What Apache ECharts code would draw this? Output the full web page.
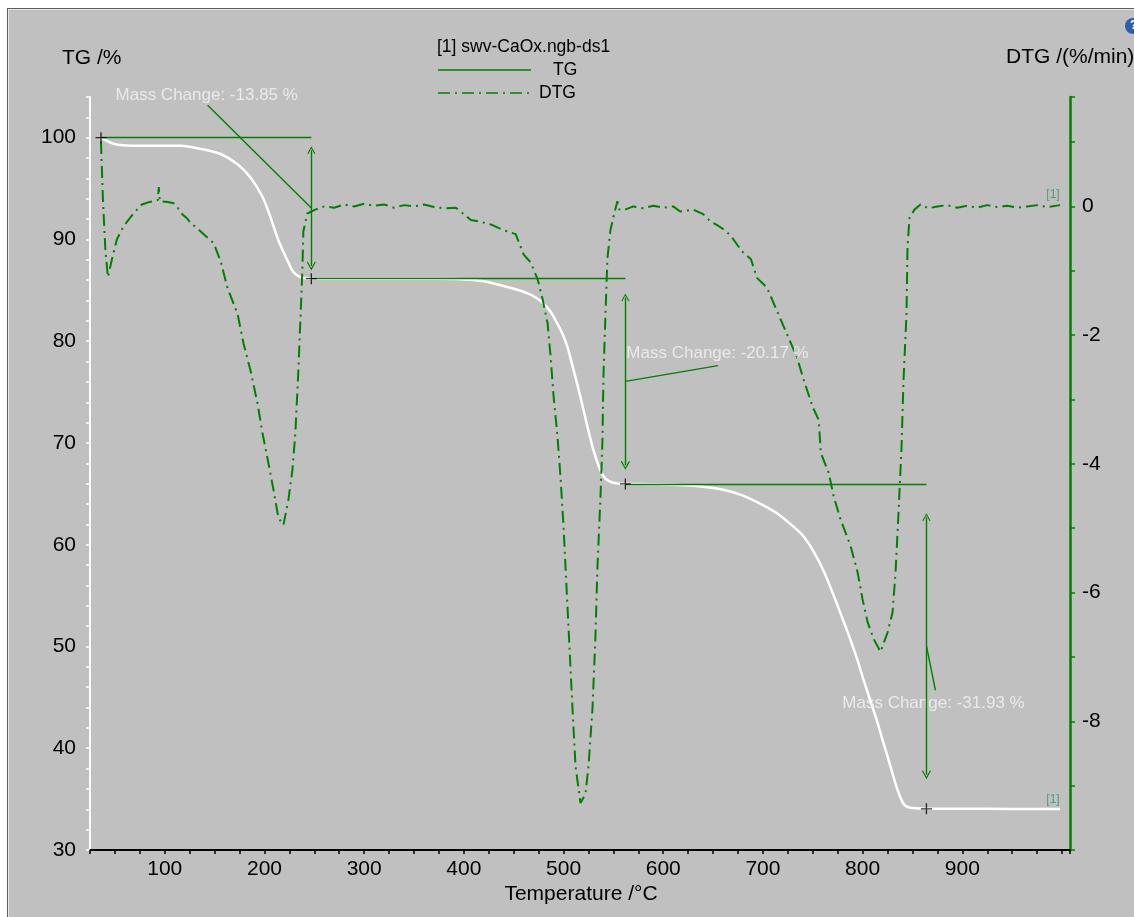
<!DOCTYPE html>
<html>
<head>
<meta charset="utf-8">
<script src="https://cdn.jsdelivr.net/npm/echarts@6/dist/echarts.min.js"></script>
<style>
  html, body { margin: 0; padding: 0; background: #ffffff; }
  /* grey Proteus panel with a thin dark frame */
  .frame {
    position: absolute; left: 7px; top: 8px; width: 1140px; height: 920px;
    background: #c0c0c0;
    border-top: 1px solid #5f5f5f; border-left: 1px solid #5f5f5f;
    box-shadow: inset 1px 1px 0 #e6e6e6;
  }
  #chart { position: absolute; left: 0; top: 0; width: 1134px; height: 917px; }
</style>
</head>
<body>
<div class="frame"></div>
<div id="chart"></div>
<script>
// TG curve (temperature °C, mass %)
const tgTemp = [36, 42, 48, 58, 80, 116, 136, 156, 173, 186, 198, 206, 214, 223, 229, 236, 242, 247,
  270, 320, 370, 397, 420, 437, 452, 464, 472, 480, 487, 494, 499, 504, 510, 517, 524, 530, 537, 542,
  547, 551, 556, 562, 590, 621, 640, 658, 678, 698, 714, 728, 740, 751, 761, 771, 780, 788, 795, 801,
  808, 815, 820, 825, 830, 835, 839, 842, 846, 850, 864, 900, 950, 998];
const tgMass = [100, 99.7, 99.42, 99.25, 99.2, 99.2, 98.9, 98.4, 97.4, 96.1, 94.2, 92.2, 89.9, 87.95, 86.8, 86.3, 86.17, 86.15,
  86.15, 86.14, 86.13, 86.1, 85.9, 85.5, 85.1, 84.7, 84.3, 83.7, 82.9, 81.7, 80.7, 79.4, 77.2, 74.5, 71.6, 69.3, 67.3, 66.5,
  66.2, 66.06, 66.0, 65.98, 65.95, 65.85, 65.7, 65.45, 64.9, 64.0, 63.1, 62.0, 60.9, 59.3, 57.4, 55.0, 52.7, 50.6, 48.6, 46.7,
  44.6, 42.5, 40.8, 39.2, 37.5, 35.9, 34.9, 34.4, 34.2, 34.12, 34.05, 34.05, 34.04, 34.04];

// DTG curve (temperature °C, %/min)
const dtgTemp = [36, 38, 40.5, 43, 47, 52, 58.6, 68.6, 77, 85, 89, 93, 94, 95, 97, 103, 109, 113, 117.5, 122,
  126, 134, 141, 149, 156, 163, 173, 179, 186, 193, 198, 204, 209, 214, 219, 224, 228, 231, 234, 236,
  238, 239, 243, 251, 260, 270, 280, 290, 300, 310, 320, 330, 340, 350, 360, 370, 380, 392, 400, 407,
  417, 427, 440, 452, 460, 467, 474, 479, 484, 487, 490, 494, 497, 500, 502, 505, 509, 512, 517, 522,
  525, 529, 532, 534, 537, 539, 540, 542, 544, 547, 551, 554, 556, 560, 570, 580, 590, 600, 610, 617,
  630, 640, 647, 655, 661, 668, 679, 688, 694, 704, 714, 724, 734, 741, 750, 756, 758, 766, 771, 778,
  788, 795, 800, 805, 811, 818, 825, 830, 833, 836, 839, 841, 844, 845, 847, 852, 858, 866, 875, 885,
  895, 905, 915, 925, 935, 945, 955, 965, 975, 985, 998];
const dtgRate = [1.0, 0.1, -0.7, -1.1, -0.82, -0.51, -0.31, -0.11, 0.03, 0.07, 0.08, 0.1, 0.3, 0.08, 0.06, 0.07, 0.05, -0.02, -0.12, -0.18,
  -0.26, -0.36, -0.46, -0.57, -0.85, -1.27, -1.67, -2.13, -2.55, -3.06, -3.52, -3.99, -4.40, -4.84, -4.95, -4.56, -4.10, -3.52, -2.55, -1.78,
  -1.0, -0.39, -0.11, -0.05, 0.0, -0.02, 0.03, 0.0, 0.04, 0.01, 0.03, -0.02, 0.02, 0.0, 0.03, -0.01, -0.03, -0.02, -0.12, -0.21,
  -0.24, -0.28, -0.37, -0.43, -0.75, -0.87, -1.13, -1.44, -1.82, -2.33, -2.95, -3.59, -4.22, -4.98, -5.61, -6.55, -7.81, -8.70, -9.27, -9.13,
  -8.70, -7.81, -6.68, -5.61, -4.53, -3.65, -2.64, -1.70, -0.81, -0.37, -0.1, 0.08, -0.05, -0.06, 0.0, -0.03, 0.01, -0.02, 0.0, -0.08,
  -0.05, -0.12, -0.23, -0.3, -0.36, -0.46, -0.70, -0.82, -1.11, -1.26, -1.62, -1.98, -2.34, -2.70, -3.12, -3.32, -3.83, -4.14, -4.51, -4.87,
  -5.28, -5.69, -6.11, -6.46, -6.72, -6.92, -6.62, -6.31, -5.69, -4.76, -3.74, -2.70, -1.67, -0.64, -0.18, -0.05, 0.03, -0.03, 0.0, 0.02,
  -0.02, 0.01, -0.02, 0.02, -0.01, 0.01, -0.02, 0.0, 0.02, -0.01, 0.02];

// mass change steps
const stepStartT = [36, 247, 562];
const stepEndT = [247, 562, 864];
const stepStartMass = [100, 86.15, 65.98];
const stepEndMass = [86.15, 65.98, 34.05];
const arrowTop = [98.76, 84.3, 62.7];
const arrowBottom = [87.4, 67.8, 37.4];
const leaderEndT = [143, 655, 873];
const leaderEndMass = [103.2, 77.6, 45.7];
const massChangeText = ['-13.85', '-20.17', '-31.93'];
const labelT = [50.6, 563, 779.6];
const labelMass = [104.2, 78.8, 44.4];

const FONT = '"Liberation Sans", Arial, sans-serif';
const GREEN = '#008000';
const plusPath = 'path://M4.4,0 h1.2 v4.4 h4.4 v1.2 h-4.4 v4.4 h-1.2 v-4.4 h-4.4 v-1.2 h4.4 Z';
const chevron = 'path://M5,0 L10,9 L9,10 L5,2.6 L1,10 L0,9 Z';

const chart = echarts.init(document.getElementById('chart'), null, { renderer: 'canvas' });

// annotation lines: step baselines, leaders, double arrows
const lineStyleGreen = { color: GREEN, width: 1.4, opacity: 1 };
const plainLines = [];
const arrowLines = [];
for (let i = 0; i < stepStartT.length; i++) {
  plainLines.push({ coords: [[stepStartT[i], stepStartMass[i]], [stepEndT[i], stepStartMass[i]]], lineStyle: lineStyleGreen });
  plainLines.push({ coords: [[stepEndT[i], (arrowTop[i] + arrowBottom[i]) / 2], [leaderEndT[i], leaderEndMass[i]]], lineStyle: lineStyleGreen });
  arrowLines.push({ coords: [[stepEndT[i], arrowTop[i]], [stepEndT[i], arrowBottom[i]]], lineStyle: lineStyleGreen });
}

const option = {
  backgroundColor: 'transparent',
  animation: false,
  grid: { left: 90, right: 64, top: 97, bottom: 67, containLabel: false, outerBoundsMode: 'none' },
  xAxis: {
    type: 'value', min: 25, max: 1008, interval: 25,
    axisLine: { show: true, onZero: false, lineStyle: { color: '#000', width: 2 } },
    axisTick: { show: true, length: 4, lineStyle: { color: '#000', width: 1.5 } },
    axisLabel: {
      margin: 9, color: '#000', fontSize: 21, fontFamily: FONT,
      formatter: v => (v % 100 === 0 && v >= 100 && v <= 900) ? String(v) : ''
    },
    splitLine: { show: false }
  },
  yAxis: [
    {
      type: 'value', position: 'left', min: 30, max: 104, interval: 2,
      axisLine: { show: true, onZero: false, lineStyle: { color: '#fff', width: 2 } },
      axisTick: { show: true, length: 4, lineStyle: { color: '#fff', width: 1.5 } },
      axisLabel: {
        margin: 14, color: '#000', fontSize: 21, fontFamily: FONT,
        formatter: v => (v % 10 === 0) ? String(v) : ''
      },
      splitLine: { show: false }
    },
    {
      type: 'value', position: 'right', min: -10, max: 1.7, interval: 1,
      axisLine: { show: true, onZero: false, lineStyle: { color: GREEN, width: 2.5 } },
      axisTick: { show: true, length: 5, lineStyle: { color: GREEN, width: 1.5 } },
      axisLabel: {
        margin: 12, color: '#000', fontSize: 21, fontFamily: FONT,
        formatter: v => (v <= 0 && v > -10 && Math.abs(v % 2) < 1e-9) ? String(v) : ''
      },
      splitLine: { show: false }
    }
  ],
  graphic: [
    { type: 'text', x: 62, y: 58, style: { text: 'TG /%', font: '21px ' + FONT, fill: '#000', verticalAlign: 'middle' } },
    { type: 'text', x: 1006, y: 57, style: { text: 'DTG /(%/min)', font: '21px ' + FONT, fill: '#000', verticalAlign: 'middle' } },
    { type: 'text', x: 581, y: 894, style: { text: 'Temperature /°C', font: '21px ' + FONT, fill: '#000', align: 'center', verticalAlign: 'middle' } },
    { type: 'text', x: 437, y: 47, style: { text: '[1] swv-CaOx.ngb-ds1', font: '17.5px ' + FONT, fill: '#000', verticalAlign: 'middle' } },
    { type: 'line', shape: { x1: 438, y1: 70, x2: 531, y2: 70 }, style: { stroke: GREEN, lineWidth: 1.5 } },
    { type: 'text', x: 553, y: 70, style: { text: 'TG', font: '17.5px ' + FONT, fill: '#000', verticalAlign: 'middle' } },
    { type: 'line', shape: { x1: 438, y1: 93, x2: 530, y2: 93 }, style: { stroke: GREEN, lineWidth: 1.5, lineDash: [12, 5, 2, 5] } },
    { type: 'text', x: 539, y: 93, style: { text: 'DTG', font: '17.5px ' + FONT, fill: '#000', verticalAlign: 'middle' } },
    { type: 'circle', shape: { cx: 1133, cy: 26, r: 8 }, style: { fill: '#2b5fae' } },
    { type: 'text', x: 1130, y: 26, style: { text: '?', font: 'bold 12px ' + FONT, fill: '#fff', verticalAlign: 'middle' } }
  ],
  series: [
    {
      name: 'TG', type: 'line', yAxisIndex: 0, showSymbol: false, z: 2,
      smooth: 0.3,
      data: tgTemp.map((t, i) => [t, tgMass[i]]),
      lineStyle: { color: '#ffffff', width: 2.5 }, itemStyle: { color: '#ffffff' }
    },
    {
      name: 'DTG', type: 'line', yAxisIndex: 1, showSymbol: false, z: 3,
      data: dtgTemp.map((t, i) => [t, dtgRate[i]]),
      lineStyle: { color: GREEN, width: 2, type: [12, 5, 2, 5] }, itemStyle: { color: GREEN }
    },
    {
      name: 'steps', type: 'scatter', yAxisIndex: 0, z: 11, silent: true,
      symbol: plusPath, symbolSize: 11, itemStyle: { color: '#000' },
      data: [[stepStartT[0], stepStartMass[0]]].concat(stepEndT.map((t, i) => [t, stepEndMass[i]]))
    },
    {
      name: 'labels', type: 'scatter', yAxisIndex: 0, z: 6, silent: true, clip: false,
      symbolSize: 0,
      data: labelT.map((t, i) => ({ value: [t, labelMass[i]], name: massChangeText[i] })),
      label: {
        show: true, position: 'right', distance: 0, color: '#f4f4f4',
        fontSize: 17, fontFamily: FONT,
        formatter: p => 'Mass Change: ' + p.name + ' %'
      }
    },
    {
      name: 'tgTag', type: 'scatter', yAxisIndex: 0, z: 6, silent: true, symbolSize: 0,
      data: [[tgTemp[tgTemp.length - 1], tgMass[tgMass.length - 1]]],
      label: { show: true, position: 'top', distance: 3, offset: [-7, 0], formatter: '[1]', color: '#3c8f62', fontSize: 12, fontFamily: FONT }
    },
    {
      name: 'dtgTag', type: 'scatter', yAxisIndex: 1, z: 6, silent: true, symbolSize: 0,
      data: [[dtgTemp[dtgTemp.length - 1], dtgRate[dtgRate.length - 1]]],
      label: { show: true, position: 'top', distance: 4, offset: [-7, 0], formatter: '[1]', color: '#3c8f62', fontSize: 12, fontFamily: FONT }
    },
    {
      name: 'stepLines', type: 'lines', coordinateSystem: 'cartesian2d', xAxisIndex: 0, yAxisIndex: 0,
      z: 10, silent: true, symbol: ['none', 'none'],
      lineStyle: lineStyleGreen, itemStyle: { color: GREEN },
      data: plainLines
    },
    {
      name: 'stepArrows', type: 'lines', coordinateSystem: 'cartesian2d', xAxisIndex: 0, yAxisIndex: 0,
      z: 10, silent: true, symbol: [chevron, chevron], symbolSize: [8, 9],
      lineStyle: lineStyleGreen, itemStyle: { color: GREEN },
      data: arrowLines
    }
  ]
};

chart.setOption(option);
</script>
</body>
</html>
